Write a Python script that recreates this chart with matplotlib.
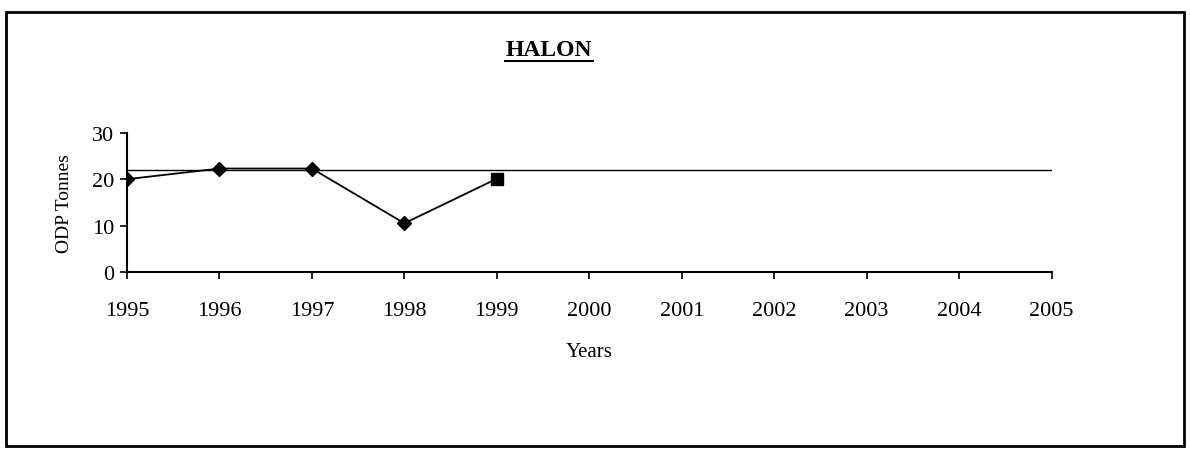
import matplotlib
matplotlib.use('Agg')
import matplotlib.pyplot as plt
from matplotlib.patches import Rectangle

# data
years = [1995, 1996, 1997, 1998, 1999]
odp_tonnes = [20.0, 22.3, 22.3, 10.5, 20.1]
baseline_years = [1995, 2005]
baseline_value = [21.9, 21.9]
tick_years = list(range(1995, 2006))
y_ticks = [0, 10, 20, 30]

plt.rcParams['font.family'] = ['Liberation Serif', 'DejaVu Serif']

fig = plt.figure(figsize=(11.9, 4.52), dpi=100)
ax = fig.add_axes([0.1067, 0.396, 0.777, 0.308])

# baseline
ax.plot(baseline_years, baseline_value, color='black', linewidth=1.0)

# consumption line, diamonds then square for last year
ax.plot(years, odp_tonnes, color='black', linewidth=1.3)
ax.plot(years[:-1], odp_tonnes[:-1], linestyle='none', marker='D', color='black', markersize=7)
ax.plot(years[-1:], odp_tonnes[-1:], linestyle='none', marker='s', color='black', markersize=8)

ax.set_xlim(1995, 2005)
ax.set_ylim(0, 30)
ax.set_xticks(tick_years)
ax.set_yticks(y_ticks)
ax.tick_params(axis='x', direction='out', length=5, width=1.2, pad=16, labelsize=16)
ax.tick_params(axis='y', direction='out', length=5, width=1.2, pad=4, labelsize=16)

ax.spines['top'].set_visible(False)
ax.spines['right'].set_visible(False)
ax.spines['left'].set_linewidth(1.5)
ax.spines['bottom'].set_linewidth(1.5)

ax.set_ylabel('ODP Tonnes', fontsize=14, labelpad=14)
ax.set_xlabel('Years', fontsize=15, labelpad=16)

# title, bold and underlined
fig.text(0.461, 0.888, 'HALON', fontsize=17, fontweight='bold', ha='center', va='center')
fig.add_artist(plt.Line2D([0.424, 0.498], [0.862, 0.862], color='black', linewidth=1.5,
                          transform=fig.transFigure))

# outer frame
fig.add_artist(Rectangle((0.005, 0.011), 0.99, 0.96, fill=False, edgecolor='black',
                         linewidth=2, transform=fig.transFigure))

fig.savefig('out.png', dpi=100)
